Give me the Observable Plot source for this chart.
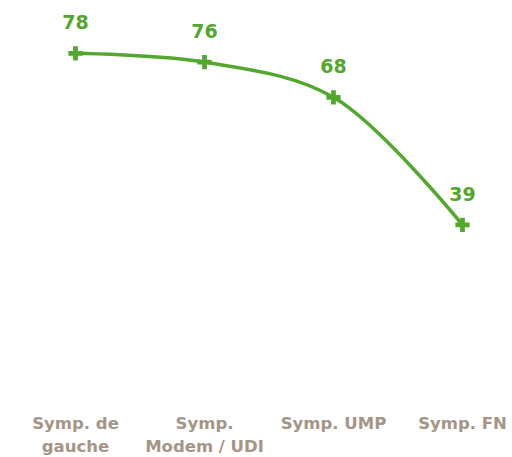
<!DOCTYPE html>
<html>
<head>
<meta charset="utf-8">
<script src="https://cdn.jsdelivr.net/npm/d3@7"></script>
<script src="https://cdn.jsdelivr.net/npm/@observablehq/plot@0.6"></script>
<style>
  html, body { margin: 0; padding: 0; background: #fff; }
  #chart svg { display: block; }
</style>
</head>
<body>
<div id="chart"></div>
<script>
const categories = ["Symp. de\ngauche", "Symp.\nModem / UDI", "Symp. UMP", "Symp. FN"];
const values = [78, 76, 68, 39];

const data = categories.map((c, i) => ({cat: c, value: values[i]}));
const green = "#52a82c";
const font = "DejaVu Sans, sans-serif";

const chart = Plot.plot({
  width: 512,
  height: 457,
  marginTop: 0,
  marginLeft: 74,
  marginRight: 50,
  marginBottom: 61,
  style: {fontFamily: font, background: "#fff"},
  x: {type: "point", domain: categories, label: null, padding: 0, inset: 0},
  y: {domain: [0, 90], axis: null},
  marks: [
    Plot.axisX({tickSize: 0, tickPadding: 17, fontSize: 16.5, fontWeight: "bold", fill: "#a59587", lineHeight: 1.35, label: null, textAnchor: "middle"}),
    Plot.line(data, {x: "cat", y: "value", stroke: green, strokeWidth: 3.5, curve: "catmull-rom"}),
    Plot.dot(data, {x: "cat", y: "value", symbol: "cross", r: 6, fill: green}),
    Plot.text(data, {x: "cat", y: "value", text: d => String(d.value), dy: -30, fill: green, fontSize: 19, fontWeight: "bold"})
  ]
});
document.getElementById("chart").appendChild(chart);
</script>
</body>
</html>
